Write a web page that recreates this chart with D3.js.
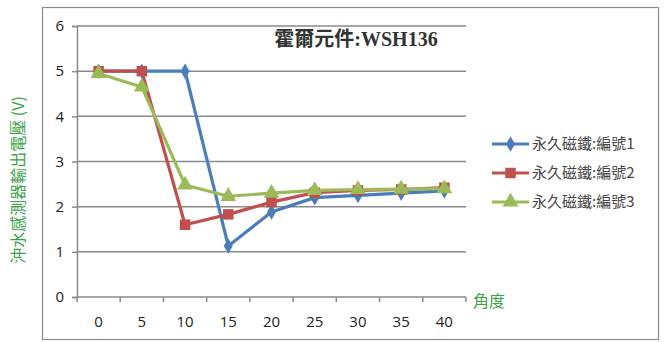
<!DOCTYPE html>
<html>
<head>
<meta charset="utf-8">
<script src="https://cdn.jsdelivr.net/npm/d3@7"></script>
<style>
  html, body { margin: 0; padding: 0; background: #fff; }
  svg { display: block; }
</style>
</head>
<body>
<svg id="chart" width="665" height="342"></svg>
<script>
// Angle categories (degrees) and sensor output voltage per magnet
const angles = [0, 5, 10, 15, 20, 25, 30, 35, 40];
const magnet1 = [5.0, 5.0, 5.0, 1.13, 1.88, 2.2, 2.25, 2.3, 2.35];
const magnet2 = [5.0, 5.0, 1.6, 1.83, 2.1, 2.31, 2.36, 2.38, 2.42];
const magnet3 = [4.95, 4.65, 2.48, 2.23, 2.3, 2.36, 2.38, 2.39, 2.4];
const seriesNames = ["永久磁鐵:編號1", "永久磁鐵:編號2", "永久磁鐵:編號3"];
const yTicks = [0, 1, 2, 3, 4, 5, 6];
const titleText = "霍爾元件:WSH136";
const yLabel = "沖水感測器輸出電壓 (V)";
const xLabel = "角度";

const colors = ["#4A7EBB", "#C0504D", "#9BBB59"];
const shapes = [d3.symbolDiamond, d3.symbolSquare, d3.symbolTriangle];
const shapeSizes = [70, 110, 110];

const series = [magnet1, magnet2, magnet3].map((vals, i) => ({
  name: seriesNames[i],
  color: colors[i],
  shape: shapes[i],
  size: shapeSizes[i],
  values: vals.map((v, j) => ({ x: angles[j], y: v }))
}));

const svg = d3.select("#chart");
const plot = { left: 77, right: 466, top: 26, bottom: 297 };

// Chart frame
svg.append("rect")
  .attr("x", 42.5).attr("y", 7.5)
  .attr("width", 616).attr("height", 332)
  .attr("fill", "#fff").attr("stroke", "#8c8c8c").attr("stroke-width", 1.2);

const x = d3.scaleBand()
  .domain(angles)
  .range([plot.left, plot.right])
  .paddingInner(0).paddingOuter(0);

const y = d3.scaleLinear()
  .domain([0, 6])
  .range([plot.bottom, plot.top]);

// Horizontal gridlines
svg.append("g")
  .selectAll("line")
  .data(yTicks.filter(t => t > 0))
  .join("line")
  .attr("x1", plot.left).attr("x2", plot.right)
  .attr("y1", d => y(d)).attr("y2", d => y(d))
  .attr("stroke", "#8a8a8a").attr("stroke-width", 1.5);

// Y axis
const yAxis = svg.append("g")
  .attr("transform", `translate(${plot.left},0)`)
  .call(d3.axisLeft(y).tickValues(yTicks).tickSize(5).tickPadding(8).tickFormat(d3.format("d")));
yAxis.select(".domain").attr("stroke", "#8a8a8a").attr("stroke-width", 1.5);
yAxis.selectAll(".tick line").attr("stroke", "#8a8a8a").attr("stroke-width", 1.5);
yAxis.selectAll(".tick text")
  .attr("font-family", "Open Sans, Liberation Sans, sans-serif")
  .attr("font-size", 15).attr("fill", "#222");

// X axis: ticks between categories
const xAxisG = svg.append("g")
  .attr("transform", `translate(0,${plot.bottom})`);
xAxisG.append("line")
  .attr("x1", plot.left).attr("x2", plot.right)
  .attr("stroke", "#8a8a8a").attr("stroke-width", 1.5);
const bounds = angles.map(a => x(a)).concat([x(angles[angles.length - 1]) + x.bandwidth()]);
xAxisG.selectAll("line.tk")
  .data(bounds)
  .join("line")
  .attr("class", "tk")
  .attr("x1", d => d).attr("x2", d => d)
  .attr("y1", 0).attr("y2", 5)
  .attr("stroke", "#8a8a8a").attr("stroke-width", 1.5);
xAxisG.selectAll("text")
  .data(angles)
  .join("text")
  .attr("x", d => x(d) + x.bandwidth() / 2)
  .attr("y", 30)
  .attr("text-anchor", "middle")
  .attr("font-family", "Open Sans, Liberation Sans, sans-serif")
  .attr("font-size", 15).attr("fill", "#222")
  .text(d => d);

const cx = d => x(d) + x.bandwidth() / 2;

// Lines and markers
const line = d3.line().x(d => cx(d.x)).y(d => y(d.y));
series.forEach(s => {
  svg.append("path")
    .datum(s.values)
    .attr("d", line)
    .attr("fill", "none")
    .attr("stroke", s.color)
    .attr("stroke-width", 3.2)
    .attr("stroke-linejoin", "round");
});
series.forEach(s => {
  svg.append("g")
    .selectAll("path")
    .data(s.values)
    .join("path")
    .attr("transform", d => `translate(${cx(d.x)},${y(d.y)})`)
    .attr("d", d3.symbol().type(s.shape).size(s.size))
    .attr("fill", s.color);
});

// Title
svg.append("text")
  .attr("x", 356).attr("y", 46)
  .attr("text-anchor", "middle")
  .attr("font-family", "Liberation Serif, Noto Sans CJK TC, serif")
  .attr("font-weight", "bold")
  .attr("font-size", 20).attr("fill", "#333")
  .text(titleText);

// Axis titles
svg.append("text")
  .attr("transform", "translate(24,180) rotate(-90)")
  .attr("text-anchor", "middle")
  .attr("font-family", "Noto Sans CJK TC, sans-serif")
  .attr("font-size", 16).attr("fill", "#3aa34a")
  .text(yLabel);

svg.append("text")
  .attr("x", 473).attr("y", 307)
  .attr("font-family", "Noto Sans CJK TC, sans-serif")
  .attr("font-size", 16).attr("fill", "#3aa34a")
  .text(xLabel);

// Legend
const legend = svg.append("g");
series.forEach((s, i) => {
  const ly = 144 + i * 29;
  legend.append("line")
    .attr("x1", 492).attr("x2", 529)
    .attr("y1", ly).attr("y2", ly)
    .attr("stroke", s.color).attr("stroke-width", 3.2);
  legend.append("path")
    .attr("transform", `translate(510.5,${ly})`)
    .attr("d", d3.symbol().type(s.shape).size(s.size))
    .attr("fill", s.color);
  legend.append("text")
    .attr("x", 532).attr("y", ly + 5)
    .attr("font-family", "Noto Sans CJK TC, sans-serif")
    .attr("font-size", 15).attr("fill", "#444")
    .text(s.name);
});
</script>
</body>
</html>
